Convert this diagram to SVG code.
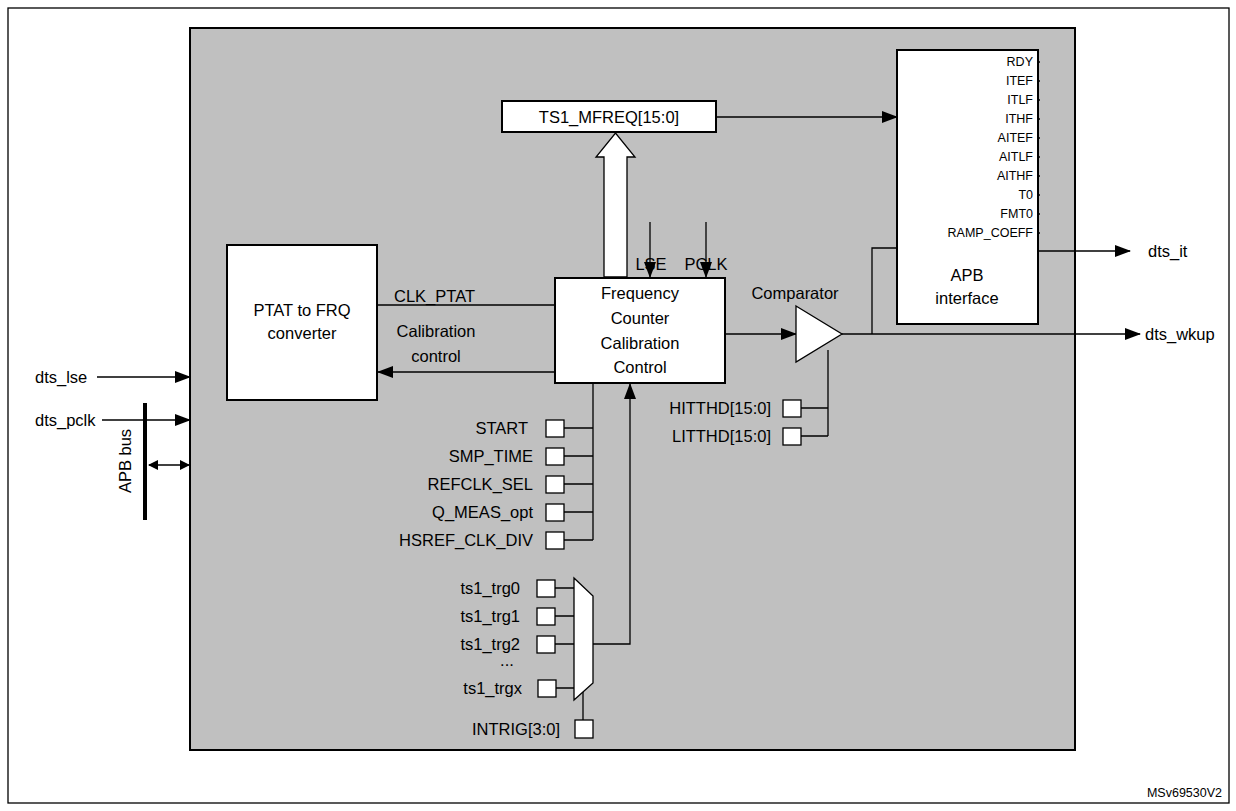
<svg xmlns="http://www.w3.org/2000/svg" width="1236" height="811" viewBox="0 0 1236 811">
<style>
text{font-family:"Liberation Sans",Arial,sans-serif;font-size:16.5px;fill:#000}
.s{font-size:12.5px}
.r{text-anchor:end}
.m{text-anchor:middle}
.w{fill:#fff;stroke:#000;stroke-width:2}
.l{stroke:#000;stroke-width:1.3;fill:none}
.b{fill:#fff;stroke:#000;stroke-width:1.3}
</style>
<defs><marker id="a" markerWidth="10" markerHeight="10" refX="9" refY="5" orient="auto-start-reverse" markerUnits="userSpaceOnUse"><path d="M0,0L10,5L0,10z" fill="#000"/></marker>
<marker id="a2" markerWidth="16" markerHeight="12" refX="15" refY="6" orient="auto-start-reverse" markerUnits="userSpaceOnUse"><path d="M0,0L16,6L0,12z" fill="#000"/></marker></defs>
<rect x="8" y="8" width="1221" height="795" fill="#fff" stroke="#000" stroke-width="1.3"/>
<rect x="190" y="28" width="885" height="722" fill="#c0c0c0" stroke="#000" stroke-width="2"/>
<g id="connectors">
<path class="l" d="M716,117H897" marker-end="url(#a2)"/>
<path class="l" d="M650,222V277" marker-end="url(#a2)"/>
<path class="l" d="M706,222V277" marker-end="url(#a2)"/>
<path class="l" d="M725,334H796" marker-end="url(#a2)"/>
<path class="l" d="M842,334H1140" marker-end="url(#a2)"/>
<path class="l" d="M872,334V248H897"/>
<path class="l" d="M1038,251H1130" marker-end="url(#a2)"/>
<path class="l" d="M377,305H555"/>
<path class="l" d="M555,372H378" marker-end="url(#a2)"/>
<path class="l" d="M97,377H190" marker-end="url(#a2)"/>
<path class="l" d="M102,420H190" marker-end="url(#a2)"/>
<path class="l" d="M149,465H189" marker-start="url(#a)" marker-end="url(#a)"/>
<path d="M145,458V520M145,403V520" stroke="#000" stroke-width="4"/>
<path class="l" d="M593,383V540M564,428H593M564,456H593M564,484H593M564,512H593M564,540H593"/>
<path class="l" d="M593,644H630V384" marker-end="url(#a2)"/>
<path class="l" d="M555,588H574M555,616H574M555,644H574M555,688H574"/>
<path class="l" d="M583,692V720"/>
<path class="l" d="M801,408H828M801,436H828M828,350V436"/>
<path class="l" d="M1036,62H1040M1036,81H1040M1036,100H1040M1036,119H1040M1036,138H1040M1036,157H1040M1036,176H1040M1036,195H1040M1036,214H1040M1036,233H1040"/>
</g>
<g id="ts1"><rect class="w" x="502" y="101" width="214" height="31" stroke-width="1.3"/><text x="609" y="123" class="m">TS1_MFREQ[15:0]</text></g>
<g id="bus"><path class="b" d="M604,277V157H596L615.5,133L635,157H627V277Z"/></g>
<text x="651" y="270" class="m">LSE</text><text x="706" y="270" class="m">PCLK</text>
<g id="fc"><rect class="w" x="555" y="278" width="170" height="105"/>
<text x="640" y="299" class="m">Frequency</text><text x="640" y="324" class="m">Counter</text><text x="640" y="349" class="m">Calibration</text><text x="640" y="373" class="m">Control</text></g>
<g id="comp"><path class="b" d="M796,306L842,334L796,362Z"/><text x="795" y="299" class="m">Comparator</text></g>
<g id="apb"><rect class="w" x="897" y="50" width="141" height="274"/>
<g class="s r"><text x="1033" y="66" class="s r">RDY</text><text x="1033" y="85" class="s r">ITEF</text><text x="1033" y="104" class="s r">ITLF</text><text x="1033" y="123" class="s r">ITHF</text><text x="1033" y="142" class="s r">AITEF</text><text x="1033" y="161" class="s r">AITLF</text><text x="1033" y="180" class="s r">AITHF</text><text x="1033" y="199" class="s r">T0</text><text x="1033" y="218" class="s r">FMT0</text><text x="1033" y="237" class="s r">RAMP_COEFF</text></g>
<text x="967" y="281" class="m">APB</text><text x="967" y="304" class="m">interface</text></g>
<text x="1148" y="257">dts_it</text><text x="1145" y="340">dts_wkup</text>
<g id="ptat"><rect class="w" x="227" y="245" width="150" height="155"/><text x="302" y="316" class="m">PTAT to FRQ</text><text x="302" y="339" class="m">converter</text></g>
<text x="394" y="302">CLK_PTAT</text><text x="436" y="337" class="m">Calibration</text><text x="436" y="362" class="m">control</text>
<text x="35" y="383">dts_lse</text><text x="35" y="426">dts_pclk</text>
<text transform="translate(131,461) rotate(-90)" class="m">APB bus</text>
<g id="regs">
<rect class="b" x="546" y="420" width="18" height="17"/><text x="528" y="434" class="r">START</text>
<rect class="b" x="546" y="448" width="18" height="17"/><text x="533" y="462" class="r">SMP_TIME</text>
<rect class="b" x="546" y="476" width="18" height="17"/><text x="533" y="490" class="r">REFCLK_SEL</text>
<rect class="b" x="546" y="504" width="18" height="17"/><text x="533" y="518" class="r">Q_MEAS_opt</text>
<rect class="b" x="546" y="532" width="18" height="17"/><text x="533" y="546" class="r">HSREF_CLK_DIV</text>
</g>
<g id="mux"><path class="b" d="M574,578L593,596V683L574,700Z"/>
<rect class="b" x="537" y="580" width="18" height="17"/><text x="520" y="594" class="r">ts1_trg0</text>
<rect class="b" x="537" y="608" width="18" height="17"/><text x="520" y="622" class="r">ts1_trg1</text>
<rect class="b" x="537" y="636" width="18" height="17"/><text x="520" y="650" class="r">ts1_trg2</text>
<text x="507" y="666" class="m">...</text>
<rect class="b" x="538" y="680" width="18" height="17"/><text x="522" y="694" class="r">ts1_trgx</text>
<rect class="b" x="575" y="720" width="18" height="18"/><text x="560" y="735" class="r">INTRIG[3:0]</text></g>
<g id="thd"><rect class="b" x="783" y="400" width="18" height="17"/><text x="771" y="414" class="r">HITTHD[15:0]</text>
<rect class="b" x="783" y="428" width="18" height="17"/><text x="771" y="442" class="r">LITTHD[15:0]</text></g>
<text x="1222" y="797" class="s r">MSv69530V2</text>
</svg>
